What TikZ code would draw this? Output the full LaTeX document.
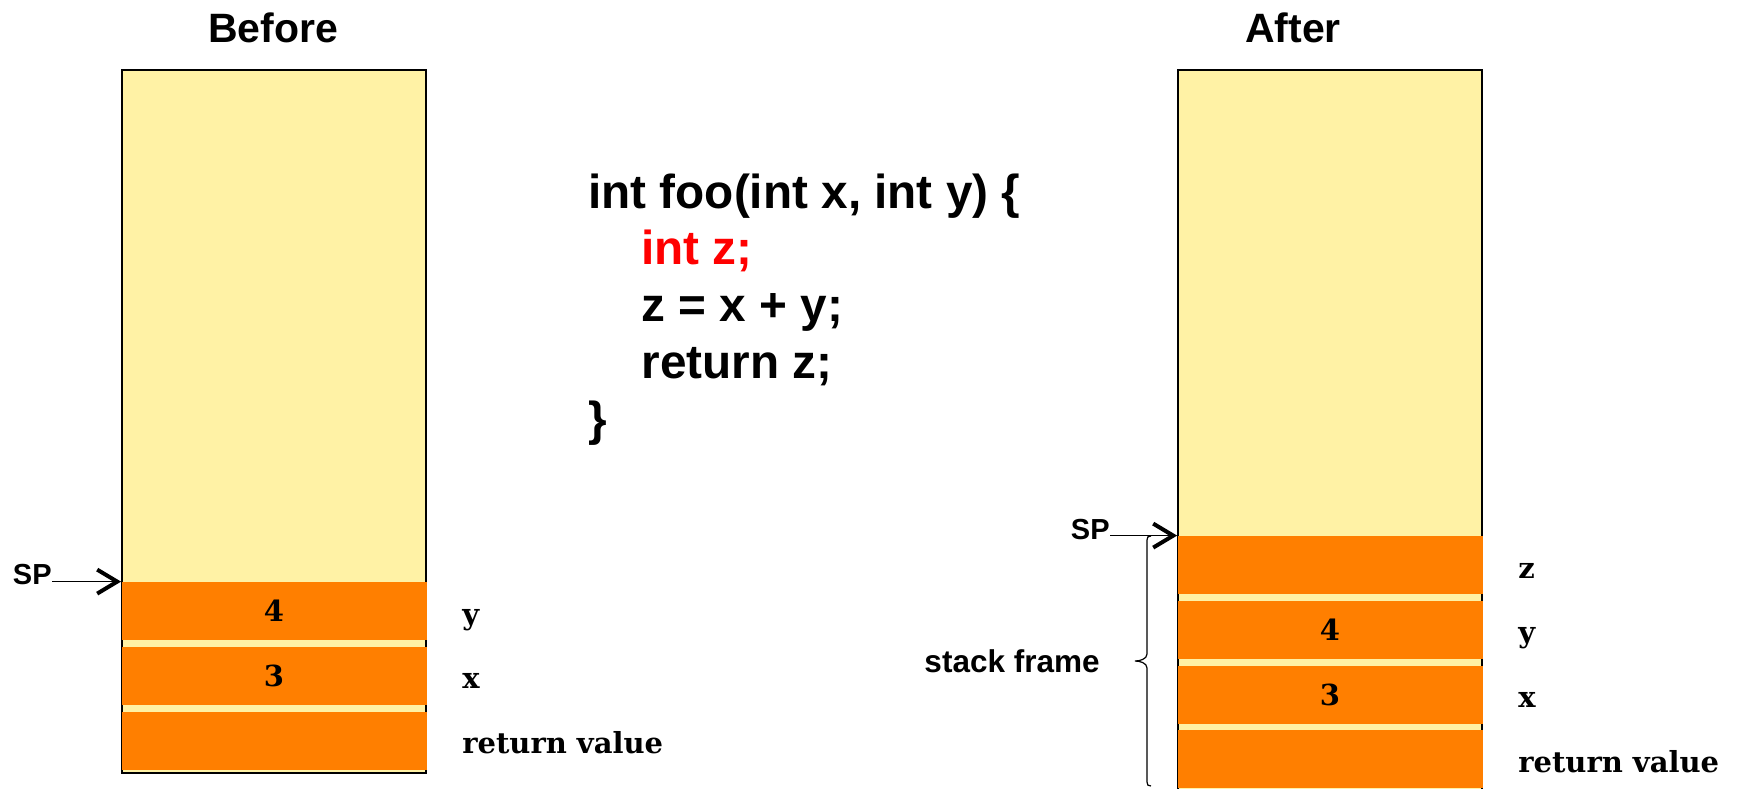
\documentclass[tikz,border=0pt]{standalone}
\usepackage{fontspec}
\setmainfont{Liberation Sans}
\newfontfamily\slabfont{DejaVu Serif}
\usetikzlibrary{positioning,arrows.meta}
\definecolor{stackyellow}{RGB}{255,242,165}
\definecolor{frameorange}{RGB}{255,127,0}
\definecolor{codered}{RGB}{255,0,0}

\begin{document}
\begin{tikzpicture}[x=0.5pt,y=-0.5pt,
stackbox/.style={draw,line width=1pt,fill=stackyellow,rectangle,minimum width=152pt,inner sep=0pt},
cell/.style={fill=frameorange,rectangle,minimum width=152.5pt,minimum height=29pt,inner sep=0pt,
    font=\slabfont\bfseries\fontsize{14.5}{16}\selectfont},
cellname/.style={font=\slabfont\bfseries\fontsize{14.5}{16}\selectfont,inner sep=0pt,
    text height=14pt,text depth=1pt},
title/.style={font=\bfseries\fontsize{20.5}{24}\selectfont,inner sep=0pt},
spname/.style={font=\bfseries\fontsize{14.5}{17}\selectfont,inner sep=0pt},
sparrow/.style={line width=0.75pt,-{Straight Barb[length=10pt,width=12pt,line width=2pt]}},
label distance=17.5pt]
\useasboundingbox (0,0) rectangle (1740,788);
\clip (0,0) rectangle (1740,788);

% before
\node[title] (before) at (273,28) {Before};
\node[stackbox,minimum height=351.5pt] (lstack) at (274,421.5) {};
\node (ly) [cell,label={[cellname]right:y}] at (274,611) {4};
\node (lx) [cell,below=3pt of ly,label={[cellname]right:x}] {3};
\node (lret) [cell,below=3pt of lx,label={[cellname]right:return value}] {};
\node[spname,anchor=east] (lsp) at (52,575) {SP};
\draw[sparrow] (lsp.east |- ly.north west) -- (ly.north west);

% code
\node[anchor=base west,inner sep=0pt,align=left,
    font=\bfseries\fontsize{23.85}{28.35}\selectfont] (code) at (588,435)
    {int foo(int x, int y) \{\\
     \hspace*{1.112em}\textcolor{codered}{int z;}\\
     \hspace*{1.112em}z = x + y;\\
     \hspace*{1.112em}return z;\\
     \}};

% after
\node[title] (after) at (1293,28) {After};
\node[stackbox,minimum height=361pt] (rstack) at (1330,431) {};
\node (rz) [cell,label={[cellname]right:z}] at (1330,565) {};
\node (ry) [cell,below=3pt of rz,label={[cellname]right:y}] {4};
\node (rx) [cell,below=3pt of ry,label={[cellname]right:x}] {3};
\node (rret) [cell,below=3pt of rx,label={[cellname]right:return value}] {};
\node[spname,anchor=east] (rsp) at (1110,530) {SP};
\draw[sparrow] (rsp.east |- rz.north west) -- (rz.north west);

% stack frame brace
\coordinate (btip) at (1135,661);
\draw[line width=0.6pt] (1151,536) .. controls (1148,536) and (1147,537) .. (1147,540)
    -- (1147,654) .. controls (1147,659) and (1140,661) .. (btip)
    .. controls (1140,661) and (1147,663) .. (1147,668)
    -- (1147,782) .. controls (1147,785) and (1148,786) .. (1151,786);
\node[font=\bfseries\fontsize{15.75}{18}\selectfont,inner sep=0pt,left=17.5pt of btip] (sframe) {stack frame};

\end{tikzpicture}
\end{document}
